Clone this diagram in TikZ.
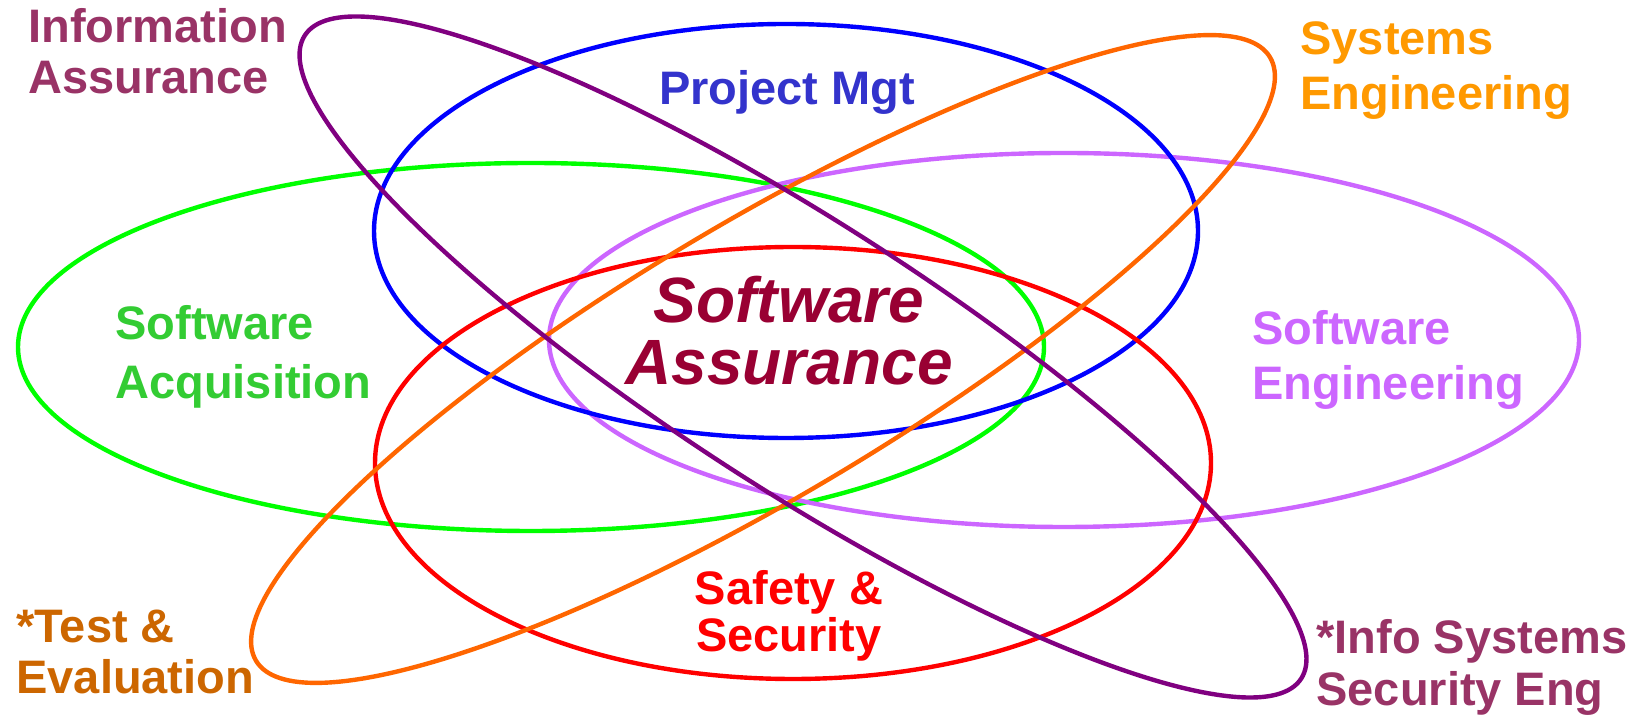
\documentclass[tikz,border=0pt]{standalone}
\usepackage{fontspec}
\setmainfont{Liberation Sans}
\usepackage{tikz}

\begin{document}
\begin{tikzpicture}[
    x=0.5pt,
    y=0.5pt,
    ring/.style={
        line width=2.2pt
    },
    field/.style={
        font=\fontsize{23.5}{25.5}\selectfont\bfseries,
        align=left,
        inner sep=0pt,
        anchor=base west
    },
    core/.style={
        font=\fontsize{32}{31}\selectfont\bfseries\itshape,
        align=center,
        inner sep=0pt,
        anchor=base
    }]
    \definecolor{r1}{RGB}{0, 255, 0}
    \definecolor{r2}{RGB}{204, 102, 255}
    \definecolor{r3}{RGB}{0, 0, 255}
    \definecolor{r4}{RGB}{255, 0, 0}
    \definecolor{r5}{RGB}{255, 102, 0}
    \definecolor{r6}{RGB}{128, 0, 128}
    \definecolor{t1}{RGB}{153, 51, 102}
    \definecolor{t2}{RGB}{51, 51, 204}
    \definecolor{t3}{RGB}{255, 153, 0}
    \definecolor{t4}{RGB}{51, 204, 51}
    \definecolor{t5}{RGB}{153, 0, 51}
    \definecolor{t6}{RGB}{204, 102, 0}

    \useasboundingbox (0,0) rectangle (1641,716);

    % the rings
    \draw[ring, r1] (531,369) ellipse [x radius=513, y radius=184];
    \draw[ring, r2] (1064,376) ellipse [x radius=515, y radius=187];
    \draw[ring, r3] (786,485) ellipse [x radius=412, y radius=207];
    \draw[ring, r4] (793,253) ellipse [x radius=418, y radius=216];
    \draw[ring, r5, rotate around={30.75:(763,357)}] (763,357) ellipse [x radius=590, y radius=137];
    \draw[ring, r6, rotate around={-32.84:(803,359)}] (803,359) ellipse [x radius=593, y radius=133];

    % the labels (base = last line)
    \node[field, t1] (infoas) at (28,622) {Information\\Assurance};
    \node[field, t3, font=\fontsize{23.5}{27.5}\selectfont\bfseries] (syseng) at (1300,606) {Systems\\Engineering};
    \node[field, t2, anchor=base] (projmgt) at (787,611) {Project Mgt};
    \node[field, t4, font=\fontsize{23.5}{29.5}\selectfont\bfseries] (swacq) at (115,317) {Software\\Acquisition};
    \node[field, r2, font=\fontsize{23.5}{27.5}\selectfont\bfseries] (sweng) at (1252,316) {Software\\Engineering};
    \node[core, t5] (swas) at (789,331) {Software\\Assurance};
    \node[field, r4, align=center, anchor=base, font=\fontsize{23.5}{23.5}\selectfont\bfseries] (safesec) at (789,64) {Safety \&\\Security};
    \node[field, t6] (testev) at (16,22) {*Test \&\\Evaluation};
    \node[field, t1, font=\fontsize{23.5}{26}\selectfont\bfseries] (isseng) at (1316,10) {*Info Systems\\Security Eng};

\end{tikzpicture}
\end{document}
